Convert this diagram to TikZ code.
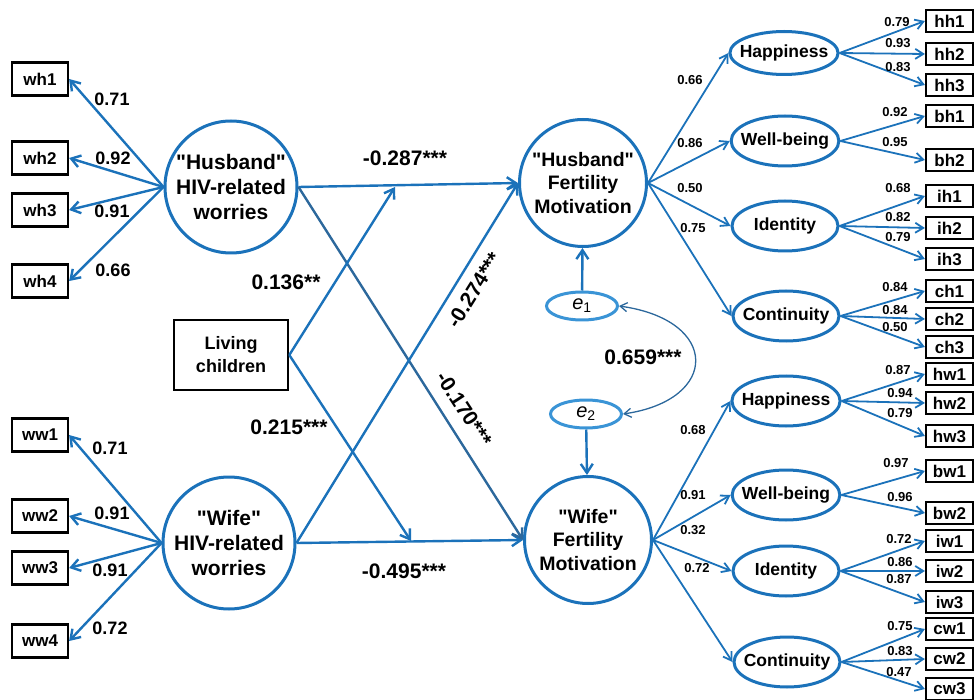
\documentclass[tikz,border=0pt]{standalone}
\usepackage{fontspec}
\setmainfont{Liberation Sans}
\usetikzlibrary{shapes.geometric,arrows.meta}
\definecolor{semblue}{RGB}{27,114,186}
\definecolor{darkpath}{RGB}{44,104,156}
\definecolor{errblue}{RGB}{58,148,214}
\newcommand{\qq}{\textquotedbl}

\begin{document}
\begin{tikzpicture}[x=1pt,y=-1pt,
	obs/.style={draw=black,line width=2.2pt,minimum width=56pt,minimum height=33pt,inner sep=0pt,font=\fontsize{17}{17}\selectfont\bfseries},
	obsr/.style={draw=black,line width=2.2pt,minimum width=47pt,minimum height=22pt,inner sep=0pt,font=\fontsize{17}{17}\selectfont\bfseries},
	worry/.style={circle,draw=semblue,line width=3pt,minimum size=132pt,inner sep=0pt,align=center,font=\fontsize{21}{25}\selectfont\bfseries},
	fert/.style={circle,draw=semblue,line width=3pt,minimum size=127pt,inner sep=0pt,align=center,font=\fontsize{19.5}{23.5}\selectfont\bfseries},
	facet/.style={ellipse,draw=semblue,line width=3pt,minimum width=106pt,minimum height=50pt,inner xsep=-6pt,inner ysep=0pt,font=\fontsize{17.5}{18}\selectfont\bfseries},
	err/.style={ellipse,draw=errblue,line width=3pt,minimum width=71pt,minimum height=28pt,inner sep=0pt,font=\fontsize{20}{20}\selectfont},
	lnk/.style={draw=semblue,line width=2.4pt,-{Straight Barb[length=9pt,width=12pt]}},
	ldg/.style={draw=semblue,line width=1.8pt,-{Straight Barb[length=8pt,width=10pt]}},
	coef/.style={font=\fontsize{21}{21}\selectfont\bfseries,inner sep=0pt},
	wload/.style={font=\fontsize{18}{18}\selectfont\bfseries,inner sep=0pt},
	sload/.style={font=\fontsize{13}{13}\selectfont\bfseries,inner sep=0pt}]
\useasboundingbox (0,0) rectangle (974,700);

% worries indicators
	\node[obs] (wh1) at (40,79) {wh1};
	\node[obs] (wh2) at (40,158) {wh2};
	\node[obs] (wh3) at (40,210) {wh3};
	\node[obs] (wh4) at (40,281) {wh4};
	\node[obs] (ww1) at (40,435) {ww1};
	\node[obs] (ww2) at (40,516) {ww2};
	\node[obs] (ww3) at (40,568) {ww3};
	\node[obs] (ww4) at (40,641) {ww4};

% latent variables
	\node[worry] (hwor) at (231,187) {\qq Husband\qq\\HIV-related\\worries};
	\node[worry] (wwor) at (229,543) {\qq Wife\qq\\HIV-related\\worries};
	\node[draw=black,line width=2.6pt,minimum width=114pt,minimum height=70pt,align=center,font=\fontsize{18}{23}\selectfont\bfseries] (kids) at (231,355) {Living\\children};
	\node[fert] (hfm) at (583,183) {\qq Husband\qq\\Fertility\\Motivation};
	\node[fert] (wfm) at (588,540) {\qq Wife\qq\\Fertility\\Motivation};
	\node[err] (e1) at (582,306) {\textit{e}\textsubscript{1}};
	\node[err] (e2) at (586,414) {\textit{e}\textsubscript{2}};

% facets
	\node[facet,minimum height=43pt] (hhap) at (784,53) {Happiness};
	\node[facet] (hwb) at (785,141) {Well-being};
	\node[facet] (hid) at (785,226) {Identity};
	\node[facet] (hcon) at (786,316) {Continuity};
	\node[facet] (whap) at (786,401) {Happiness};
	\node[facet] (wwb) at (786,495) {Well-being};
	\node[facet] (wid) at (786,571) {Identity};
	\node[facet] (wcon) at (787,662) {Continuity};

% motivation indicators
	\node[obsr] (hh1) at (949.5,21) {hh1};
	\node[obsr] (hh2) at (949.5,54) {hh2};
	\node[obsr] (hh3) at (949.5,85) {hh3};
	\node[obsr] (bh1) at (949.5,116) {bh1};
	\node[obsr] (bh2) at (949.5,160) {bh2};
	\node[obsr] (ih1) at (949.5,196) {ih1};
	\node[obsr] (ih2) at (949.5,228) {ih2};
	\node[obsr] (ih3) at (949.5,259) {ih3};
	\node[obsr] (ch1) at (949.5,291) {ch1};
	\node[obsr] (ch2) at (949.5,319) {ch2};
	\node[obsr] (ch3) at (949.5,347) {ch3};
	\node[obsr] (hw1) at (949.5,374) {hw1};
	\node[obsr] (hw2) at (949.5,403) {hw2};
	\node[obsr] (hw3) at (949.5,436) {hw3};
	\node[obsr] (bw1) at (949.5,471) {bw1};
	\node[obsr] (bw2) at (949.5,513) {bw2};
	\node[obsr] (iw1) at (949.5,541) {iw1};
	\node[obsr] (iw2) at (949.5,571) {iw2};
	\node[obsr] (iw3) at (949.5,602) {iw3};
	\node[obsr] (cw1) at (949.5,629) {cw1};
	\node[obsr] (cw2) at (949.5,659) {cw2};
	\node[obsr] (cw3) at (949.5,689) {cw3};

\coordinate (mh) at (395,187);
\coordinate (mw) at (411,541);

% loadings of worries
\draw[lnk] (hwor.west)--(wh1.east);
\draw[lnk] (hwor.west)--(wh2.east);
\draw[lnk] (hwor.west)--(wh3.east);
\draw[lnk] (hwor.west)--(wh4.east);
\draw[lnk] (wwor.west)--(ww1.east);
\draw[lnk] (wwor.west)--(ww2.east);
\draw[lnk] (wwor.west)--(ww3.east);
\draw[lnk] (wwor.west)--(ww4.east);
	\node[wload] (lwh1) at (112,99) {0.71};
	\node[wload] (lwh2) at (113,158) {0.92};
	\node[wload] (lwh3) at (112,211) {0.91};
	\node[wload] (lwh4) at (113,270) {0.66};
	\node[wload] (lww1) at (110,448) {0.71};
	\node[wload] (lww2) at (112,513) {0.91};
	\node[wload] (lww3) at (110,570) {0.91};
	\node[wload] (lww4) at (110,628) {0.72};

% structural paths
\draw[lnk] (hwor.east)--(hfm.west);
\draw[lnk] (wwor.east)--(wfm.west);
\draw[lnk,draw=darkpath] (hwor.east)--(wfm.west);
\draw[lnk] (wwor.east)--(hfm.west);
\draw[lnk] (kids.east)--(mh);
\draw[lnk] (kids.east)--(mw);
\draw[lnk] (e1)--(hfm);
\draw[lnk] (e2)--(wfm);
\draw[draw=darkpath,line width=1.3pt,{Straight Barb[length=7pt,width=9pt]}-{Straight Barb[length=7pt,width=9pt]}] (e1.east) .. controls (720,320) and (720,400) .. (e2.east);
	\node[coef] (chh) at (405,158) {-0.287***};
	\node[coef] (cww) at (404,571) {-0.495***};
	\node[coef] (ckh) at (286,282) {0.136**};
	\node[coef] (ckw) at (289,427) {0.215***};
	\node[coef,rotate=58] (cwh) at (474,290) {-0.274***};
	\node[coef,rotate=-57] (chw) at (464,409) {-0.170***};
	\node[coef] (cee) at (643,357) {0.659***};

% second order loadings
\draw[ldg] (hfm.east)--(hhap.west);
\draw[ldg] (hfm.east)--(hwb.west);
\draw[ldg] (hfm.east)--(hid.west);
\draw[ldg] (hfm.east)--(hcon.west);
\draw[ldg] (wfm.east)--(whap.west);
\draw[ldg] (wfm.east)--(wwb.west);
\draw[ldg] (wfm.east)--(wid.west);
\draw[ldg] (wfm.east)--(wcon.west);
	\node[sload] (lhhap) at (690,80) {0.66};
	\node[sload] (lhwb) at (690,143) {0.86};
	\node[sload] (lhid) at (690,188) {0.50};
	\node[sload] (lhcon) at (693,228) {0.75};
	\node[sload] (lwhap) at (693,430) {0.68};
	\node[sload] (lwwb) at (693,495) {0.91};
	\node[sload] (lwid) at (693,530) {0.32};
	\node[sload] (lwcon) at (697,568) {0.72};

% first order loadings
\draw[ldg] (hhap.east)--(hh1.west);
\draw[ldg] (hhap.east)--(hh2.west);
\draw[ldg] (hhap.east)--(hh3.west);
\draw[ldg] (hwb.east)--(bh1.west);
\draw[ldg] (hwb.east)--(bh2.west);
\draw[ldg] (hid.east)--(ih1.west);
\draw[ldg] (hid.east)--(ih2.west);
\draw[ldg] (hid.east)--(ih3.west);
\draw[ldg] (hcon.east)--(ch1.west);
\draw[ldg] (hcon.east)--(ch2.west);
\draw[ldg] (hcon.east)--(ch3.west);
\draw[ldg] (whap.east)--(hw1.west);
\draw[ldg] (whap.east)--(hw2.west);
\draw[ldg] (whap.east)--(hw3.west);
\draw[ldg] (wwb.east)--(bw1.west);
\draw[ldg] (wwb.east)--(bw2.west);
\draw[ldg] (wid.east)--(iw1.west);
\draw[ldg] (wid.east)--(iw2.west);
\draw[ldg] (wid.east)--(iw3.west);
\draw[ldg] (wcon.east)--(cw1.west);
\draw[ldg] (wcon.east)--(cw2.west);
\draw[ldg] (wcon.east)--(cw3.west);
	\node[sload] (lhh1) at (897,22) {0.79};
	\node[sload] (lhh2) at (898,43) {0.93};
	\node[sload] (lhh3) at (898,67) {0.83};
	\node[sload] (lbh1) at (895,112) {0.92};
	\node[sload] (lbh2) at (895,142) {0.95};
	\node[sload] (lih1) at (898,188) {0.68};
	\node[sload] (lih2) at (898,217) {0.82};
	\node[sload] (lih3) at (898,237) {0.79};
	\node[sload] (lch1) at (895,287) {0.84};
	\node[sload] (lch2) at (895,310) {0.84};
	\node[sload] (lch3) at (895,327) {0.50};
	\node[sload] (lhw1) at (898,370) {0.87};
	\node[sload] (lhw2) at (900,393) {0.94};
	\node[sload] (lhw3) at (900,413) {0.79};
	\node[sload] (lbw1) at (896,463) {0.97};
	\node[sload] (lbw2) at (900,497) {0.96};
	\node[sload] (liw1) at (899,539) {0.72};
	\node[sload] (liw2) at (900,562) {0.86};
	\node[sload] (liw3) at (899,579) {0.87};
	\node[sload] (lcw1) at (900,626) {0.75};
	\node[sload] (lcw2) at (900,651) {0.83};
	\node[sload] (lcw3) at (899,672) {0.47};
\end{tikzpicture}
\end{document}
